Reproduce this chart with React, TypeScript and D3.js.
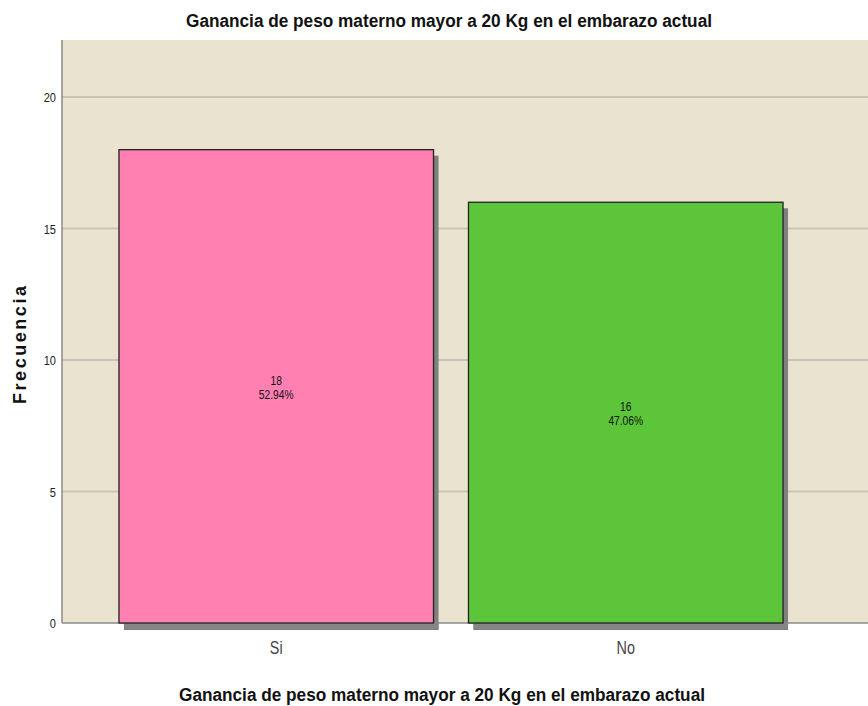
import React from "react";
import * as d3 from "d3";

const categories = ["Si", "No"];
const counts = [18, 16];
const percents = ["52.94%", "47.06%"];
const barColors = ["#FF80B1", "#5CC53A"];
const yTicks = [0, 5, 10, 15, 20];
const title = "Ganancia de peso materno mayor a 20 Kg en el embarazo actual";
const yTitle = "Frecuencia";

const W = 868;
const H = 706;
const SANS = "'Liberation Sans', Arial, sans-serif";

function NText(props: {
  x: number;
  y: number;
  sx?: number;
  anchor?: string;
  size: number;
  weight?: string;
  fill?: string;
  children: React.ReactNode;
}) {
  const { x, y, sx = 0.82, anchor = "middle", size, weight = "normal", fill = "#111", children } = props;
  return (
    <text
      transform={`translate(${x},${y}) scale(${sx},1)`}
      textAnchor={anchor}
      fontFamily={SANS}
      fontSize={size}
      fontWeight={weight}
      fill={fill}
    >
      {children}
    </text>
  );
}

export default function App() {
  const left = 62;
  const top = 40;
  const bottom = 623;
  const right = 868;
  const y = d3.scaleLinear().domain([0, 22.17]).range([bottom, top]);
  const x = d3
    .scaleBand<string>()
    .domain(categories)
    .range([left, 840])
    .paddingInner(0.1)
    .paddingOuter(0.163);
  const bw = x.bandwidth();
  return (
    <div style={{ position: "absolute", left: 0, top: 0, width: W, height: H, background: "#fff" }}>
      <svg width={W} height={H} style={{ display: "block" }}>
        <rect x={left} y={top} width={right - left} height={bottom - top} fill="#EAE3CF" />
        {yTicks
          .filter((t) => t > 0)
          .map((t) => (
            <line key={t} x1={left} x2={right} y1={y(t)} y2={y(t)} stroke="#C9C4B6" strokeWidth={2} />
          ))}
        {categories.map((c, i) => (
          <rect
            key={"s" + c}
            x={(x(c) as number) + 5}
            y={y(counts[i]) + 6}
            width={bw}
            height={bottom - y(counts[i]) + 1}
            fill="#808080"
          />
        ))}
        {categories.map((c, i) => (
          <rect
            key={"s2" + c}
            x={(x(c) as number) + 5}
            y={bottom}
            width={bw}
            height={6}
            fill="#858585"
          />
        ))}
        <line x1={left} x2={right} y1={bottom} y2={bottom} stroke="#8A8A8A" strokeWidth={1.5} />
        <line x1={left} x2={left} y1={top} y2={bottom} stroke="#8A8A8A" strokeWidth={1.5} />
        {categories.map((c, i) => (
          <rect
            key={c}
            x={x(c)}
            y={y(counts[i])}
            width={bw}
            height={bottom - y(counts[i])}
            fill={barColors[i]}
            stroke="#222"
            strokeWidth={1.3}
          />
        ))}
        {categories.map((c, i) => {
          const cx = (x(c) as number) + bw / 2;
          const cy = (y(counts[i]) + bottom) / 2;
          return (
            <g key={"l" + c}>
              <NText x={cx} y={cy - 1.5} size={12.5}>{counts[i]}</NText>
              <NText x={cx} y={cy + 12.5} size={12.5}>{percents[i]}</NText>
            </g>
          );
        })}
        {yTicks.map((t) => (
          <NText key={"t" + t} x={56} y={y(t) + 5} anchor="end" size={13.5} fill="#222">
            {t}
          </NText>
        ))}
        {categories.map((c) => (
          <NText key={"x" + c} x={(x(c) as number) + bw / 2} y={654} size={18} sx={0.8} fill="#444">
            {c}
          </NText>
        ))}
        <text
          x={449}
          y={27}
          textAnchor="middle"
          fontFamily={SANS}
          fontWeight="bold"
          fontSize={18}
          fill="#111"
          textLength={526}
          lengthAdjust="spacingAndGlyphs"
        >
          {title}
        </text>
        <text
          x={442}
          y={701}
          textAnchor="middle"
          fontFamily={SANS}
          fontWeight="bold"
          fontSize={18}
          fill="#111"
          textLength={526}
          lengthAdjust="spacingAndGlyphs"
        >
          {title}
        </text>
        <text
          transform={`translate(26,345) rotate(-90)`}
          textAnchor="middle"
          fontFamily={SANS}
          fontWeight="bold"
          fontSize={18}
          fill="#111"
          textLength={118}
          lengthAdjust="spacing"
        >
          {yTitle}
        </text>
      </svg>
    </div>
  );
}
